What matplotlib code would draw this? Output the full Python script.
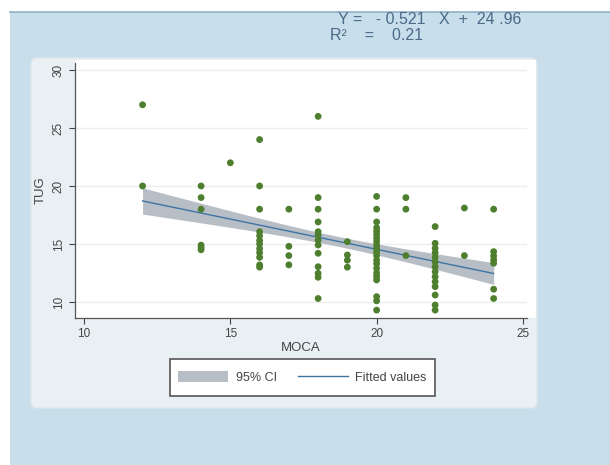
import numpy as np
import matplotlib
matplotlib.use('Agg')
import matplotlib.pyplot as plt
from matplotlib.patches import Rectangle, FancyBboxPatch, Patch
from matplotlib.lines import Line2D

plt.rcParams['font.family'] = ['Liberation Sans', 'DejaVu Sans']

# MOCA score -> TUG times (seconds), one list per MOCA value
moca_12 = [27, 20]
moca_14 = [20, 19, 18, 14.9, 14.7, 14.5]
moca_15 = [22]
moca_16 = [24, 20, 18, 16.06, 15.7, 15.3, 15.0, 14.6, 14.25, 13.85, 13.2, 13.0]
moca_17 = [18, 14.8, 14.0, 13.2]
moca_18 = [26, 19, 18, 16.9, 16.06, 15.78, 15.34, 14.91, 14.2, 13.04, 12.47, 12.13, 10.3]
moca_19 = [15.2, 14.05, 13.6, 13.0]
moca_20 = [19.1, 18, 16.9, 16.4, 16.1, 15.8, 15.5, 15.2, 14.9, 14.6, 14.3, 14.0,
           13.6, 13.3, 12.9, 12.5, 12.2, 11.9, 10.46, 10.1, 9.3]
moca_21 = [19, 18, 14]
moca_22 = [16.5, 15.06, 14.63, 14.25, 13.85, 13.48, 13.04, 12.61, 12.18, 11.75,
           11.32, 10.6, 9.74, 9.3]
moca_23 = [18.1, 14]
moca_24 = [18, 14.34, 13.97, 13.62, 13.34, 11.1, 10.3]

groups = {12: moca_12, 14: moca_14, 15: moca_15, 16: moca_16, 17: moca_17,
          18: moca_18, 19: moca_19, 20: moca_20, 21: moca_21, 22: moca_22,
          23: moca_23, 24: moca_24}

slope = -0.521
intercept = 24.96
r2 = 0.21

# half-width of the 95% band at a few MOCA values
ci_x = [12, 19, 24]
ci_half = [1.13, 0.43, 0.94]

x = np.concatenate([[k] * len(v) for k, v in groups.items()]).astype(float)
y = np.concatenate([v for v in groups.values()]).astype(float)

# variance of the fitted mean is quadratic in x
A = np.array([[1.0, cx, cx ** 2] for cx in ci_x])
coef = np.linalg.solve(A, np.array(ci_half) ** 2)
xs = np.linspace(x.min(), x.max(), 100)
fit = intercept + slope * xs
half = np.sqrt(coef[0] + coef[1] * xs + coef[2] * xs ** 2)

W, H = 610, 465
fig = plt.figure(figsize=(W / 100, H / 100), dpi=100)
fig.patch.set_facecolor('white')

# blue backdrop and the lighter graph panel (behind the axes)
fig.patches.append(Rectangle((10 / W, 0), 1, (H - 12) / H, transform=fig.transFigure,
                             facecolor='#c8deeb', edgecolor='none', zorder=-5))
fig.lines.append(Line2D([10 / W, 1], [(H - 12) / H] * 2, transform=fig.transFigure,
                        color='#8fb1c9', lw=1.2, zorder=-4))
fig.patches.append(FancyBboxPatch((31 / W, (H - 408) / H), 506 / W, 350 / H,
                                  boxstyle='round,pad=0,rounding_size=0.012',
                                  transform=fig.transFigure, facecolor='#e9f0f3',
                                  edgecolor='#dfe8ec', lw=1, zorder=-4))
fig.patches.append(Rectangle((75 / W, (H - 318) / H), 461 / W, 258 / H,
                             transform=fig.transFigure, facecolor='white',
                             edgecolor='none', zorder=-3))

ax = fig.add_axes([75 / W, (H - 318) / H, 452 / W, 255 / H])
ax.set_facecolor('white')
ax.fill_between(xs, fit - half, fit + half, color='#b7bec5', lw=0, zorder=2)
ax.plot(xs, fit, color='#3f74a3', lw=1.0, zorder=3)
ax.scatter(x, y, s=24, color='#4d7f2e', edgecolors='none', zorder=4)

ax.set_xlim(9.69, 25.14)
ax.set_ylim(8.62, 30.6)
ax.set_xticks([10, 15, 20, 25])
ax.set_yticks([10, 15, 20, 25, 30])
ax.grid(axis='y', color='#eeeeee', lw=1)
ax.set_axisbelow(True)
for side in ['top', 'right']:
    ax.spines[side].set_visible(False)
for side in ['left', 'bottom']:
    ax.spines[side].set_color('#555555')
    ax.spines[side].set_linewidth(0.9)
ax.tick_params(colors='#444444', labelsize=8.5, length=4, width=0.8)
for lab in ax.get_yticklabels():
    lab.set_rotation(90)
    lab.set_va('center')
ax.set_xlabel('MOCA', fontsize=9.5, color='#444444', labelpad=1)
ax.set_ylabel('TUG', fontsize=9.5, color='#444444', labelpad=4)

# legend: frame drawn separately so it can be taller than the entries need
fig.patches.append(Rectangle((170 / W, (H - 396) / H), 265 / W, 37 / H,
                             transform=fig.transFigure, facecolor='white',
                             edgecolor='#555555', lw=1.2, zorder=-2))
handles = [Patch(facecolor='#b7bec5', edgecolor='none'),
           Line2D([], [], color='#3f74a3', lw=1.0)]
fig.legend(handles, ['95% CI', 'Fitted values'], loc='center',
           bbox_to_anchor=(302.5 / W, (H - 377.5) / H), ncol=2, fontsize=9,
           frameon=False, handlelength=4.0, handleheight=1.0, handletextpad=0.6,
           columnspacing=1.7, labelcolor='#444444')

fig.text(430 / W, (H - 20) / H, 'Y =   - 0.521   X  +  24 .96', ha='center', va='center',
         fontsize=11.5, color='#4b6a88')
fig.text(377 / W, (H - 35) / H, 'R²    =    %.2f' % r2, ha='center', va='center',
         fontsize=11.5, color='#4b6a88')

fig.savefig('out.png', dpi=100)
